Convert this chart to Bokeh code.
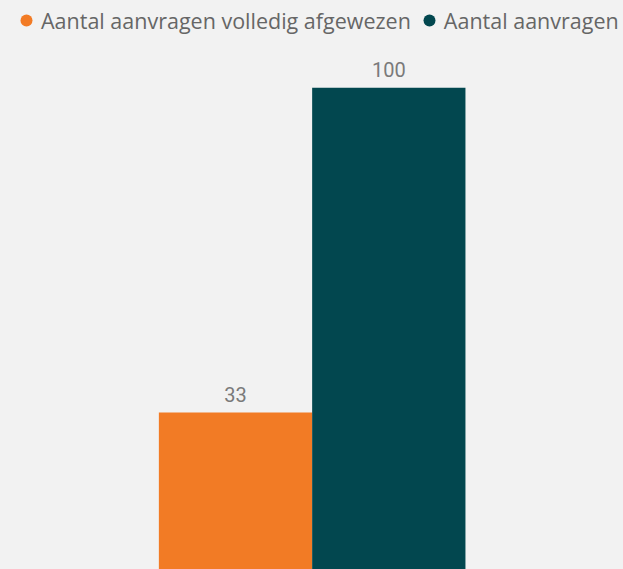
from bokeh.plotting import figure
from bokeh.models import ColumnDataSource, Legend, LegendItem, Range1d
from bokeh.core.properties import value
from bokeh.embed import file_html
from bokeh.resources import INLINE

series = ["Aantal aanvragen volledig afgewezen", "Aantal aanvragen"]
values = [33, 100]
positions = [-0.5, 0.5]
colors = ["#F27B25", "#02474F"]
labels = [str(v) for v in values]

src = ColumnDataSource(dict(x=positions, top=values, color=colors, label=labels))

p = figure(width=623, height=569, output_backend="svg", toolbar_location=None,
           x_range=Range1d(-2.033, 2.031), y_range=Range1d(0.62, 118.0),
           min_border=0, min_border_left=0, min_border_right=0,
           min_border_top=0, min_border_bottom=0)
p.background_fill_color = "#F2F2F2"
p.border_fill_color = "#F2F2F2"
p.outline_line_color = None
p.xaxis.visible = False
p.yaxis.visible = False
p.grid.visible = False

p.vbar(x="x", top="top", bottom=0, width=1.0, color="color", source=src, line_color=None)
p.text(x="x", y="top", text="label", source=src, text_align="center",
       text_baseline="alphabetic", y_offset=-18, text_color="#7A7A7A",
       text_font=value("Roboto"), text_font_size="20px")

dot_r = p.scatter(x="x", y="top", source=src, marker="circle", color="color",
                  line_color=None, visible=False)
items = [LegendItem(label=name, renderers=[dot_r], index=i) for i, name in enumerate(series)]

legend = Legend(items=items, orientation="horizontal", location=(11, 534),
                glyph_width=30, glyph_height=30, label_height=30,
                label_standoff=0, spacing=3, padding=0, margin=0,
                background_fill_alpha=0, border_line_alpha=0,
                inactive_fill_alpha=0,
                label_text_font="Open Sans", label_text_font_size="21.5px",
                label_text_color="#666666", label_text_baseline="middle")
p.add_layout(legend)

html = file_html(p, INLINE)
html = html.replace("<head>", "<head><style>html,body{background:#F2F2F2;}</style>", 1)
open("out.html", "w").write(html)
